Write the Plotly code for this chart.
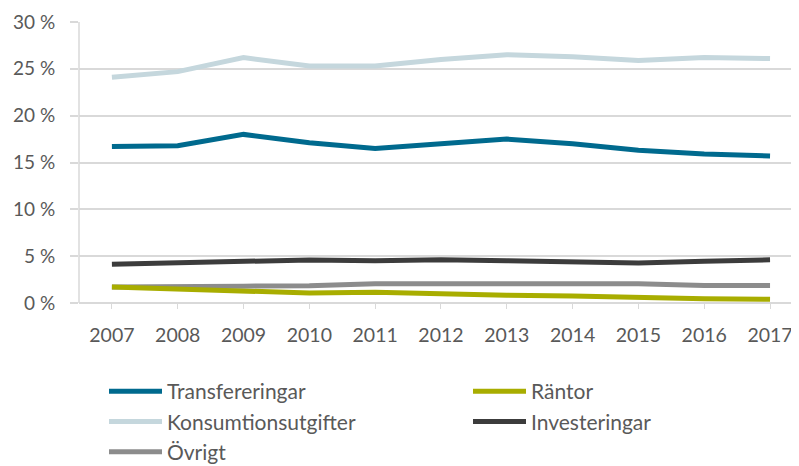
import plotly.graph_objects as go

years = ["2007", "2008", "2009", "2010", "2011", "2012", "2013", "2014", "2015", "2016", "2017"]
transfereringar = [16.7, 16.8, 18.0, 17.1, 16.5, 17.0, 17.5, 17.0, 16.3, 15.9, 15.7]
rantor = [1.7, 1.5, 1.2, 1.07, 1.14, 0.93, 0.82, 0.75, 0.57, 0.46, 0.39]
konsumtion = [24.1, 24.7, 26.2, 25.3, 25.3, 26.0, 26.5, 26.3, 25.9, 26.2, 26.1]
investeringar = [4.13, 4.3, 4.56, 4.6, 4.5, 4.62, 4.52, 4.45, 4.27, 4.45, 4.62]
ovrigt = [1.7, 1.7, 1.8, 1.85, 2.06, 2.05, 2.05, 2.05, 2.05, 1.88, 1.88]
y_ticks = [0, 5, 10, 15, 20, 25, 30]
y_ticktext = ["0 %", "5 %", "10 %", "15 %", "20 %", "25 %", "30 %"]

FONT = "Lato"
TXT = "#595959"
GRID = "#D9D9D9"
series = [
    ("Transfereringar", transfereringar, "#006A8E", "legend"),
    ("Räntor", rantor, "#A8AD00", "legend2"),
    ("Konsumtionsutgifter", konsumtion, "#C5D7DD", "legend"),
    ("Investeringar", investeringar, "#3C3C3C", "legend2"),
    ("Övrigt", ovrigt, "#8C8C8C", "legend"),
]
draw_order = [2, 0, 3, 4, 1]

fig = go.Figure()
for i in draw_order:
    name, vals, col, leg = series[i]
    fig.add_trace(go.Scatter(
        x=list(range(len(years))), y=vals, name=name, mode="lines",
        line=dict(color=col, width=5), legend=leg, legendrank=i,
    ))

# page has an 8px body margin: figure pixel = screen pixel - 8
OFF = 8
W, H = 799 - OFF, 466 - OFF
L, T, B = 79 - OFF, 22 - OFF, H - (303 - OFF)
PW, PH = 720.0, 281.0
def px_x(p):
    return (p - OFF - L) / PW
def px_y(p):
    return ((303 - OFF) - (p - OFF)) / PH

leg_common = dict(
    xanchor="left", yanchor="top", orientation="v",
    traceorder="normal", tracegroupgap=0,
    font=dict(family=FONT, size=21, color=TXT),
    bgcolor="rgba(0,0,0,0)", itemwidth=53,
)

fig.update_layout(
    width=W, height=H,
    margin=dict(l=L, r=0, t=T, b=B, autoexpand=False),
    paper_bgcolor="white", plot_bgcolor="white",
    font=dict(family=FONT, size=16, color=TXT),
    xaxis=dict(
        range=[-0.5, 10.44], tickmode="array",
        tickvals=list(range(len(years))), ticktext=years, tickangle=0,
        showgrid=False, showline=False, zeroline=False,
        ticks="outside", tickson="boundaries", ticklen=5, tickcolor=GRID,
        ticklabelstandoff=10, automargin=False,
        tickfont=dict(family=FONT, size=19.5, color=TXT),
    ),
    yaxis=dict(
        range=[0, 30], tickmode="array", tickvals=y_ticks, ticktext=y_ticktext,
        showgrid=True, gridcolor=GRID, gridwidth=1.5,
        showline=False, zeroline=True, zerolinecolor=GRID, zerolinewidth=1.5,
        ticks="outside", ticklen=8, tickcolor=GRID, tickwidth=1.5,
        ticklabelstandoff=11, automargin=False,
        tickfont=dict(family=FONT, size=19, color=TXT),
    ),
    legend=dict(x=px_x(104), y=px_y(371), **leg_common),
    legend2=dict(x=px_x(468), y=px_y(371), **leg_common),
)
# vertical axis line at the left edge of the plot
fig.add_shape(type="line", xref="paper", yref="paper", x0=0, x1=0, y0=0, y1=1,
              line=dict(color=GRID, width=1.5), layer="below")

fig.write_html("out.html")
